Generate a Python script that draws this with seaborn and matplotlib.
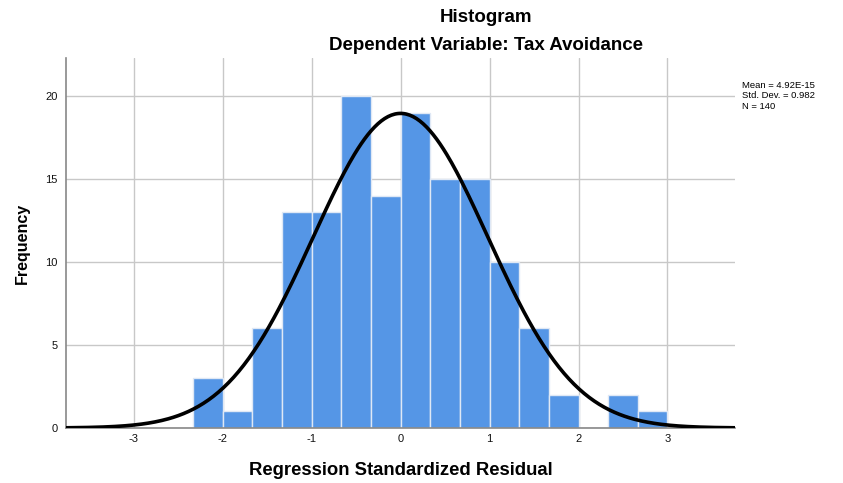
import numpy as np
import pandas as pd
import matplotlib
matplotlib.use("Agg")
import matplotlib.pyplot as plt
import seaborn as sns

# Data
bin_left = [-7/3, -2, -5/3, -4/3, -1, -2/3, -1/3, 0, 1/3, 2/3, 1, 4/3, 5/3, 2, 7/3, 8/3]
counts = [3, 1, 6, 13, 13, 20, 14, 19, 15, 15, 10, 6, 2, 0, 2, 1]
bin_width = 1/3
mean_val = 4.92e-15
sd_val = 0.982
n_val = 140
x_ticks = [-3, -2, -1, 0, 1, 2, 3]
y_ticks = [0, 5, 10, 15, 20]

sns.set_theme(style="white")
plt.rcParams['font.family'] = ['Liberation Sans', 'DejaVu Sans']
plt.rcParams['text.color'] = 'black'
plt.rcParams['axes.labelcolor'] = 'black'

fig = plt.figure(figsize=(8.43, 4.83), dpi=100)
ax = fig.add_axes([0.0783, 0.1139, 0.872 - 0.0783, 0.88 - 0.1139])

edges = list(bin_left) + [bin_left[-1] + bin_width]
centers = [b + bin_width / 2 for b in bin_left]
df = pd.DataFrame({"x": centers, "w": counts})
sns.histplot(data=df, x="x", weights="w", bins=edges, ax=ax,
             color="#5596E6", alpha=1.0, edgecolor="#dfe8f5", linewidth=1.0, zorder=2)

xs = np.linspace(-3.76, 3.76, 400)
ys = n_val * bin_width / (sd_val * np.sqrt(2 * np.pi)) * np.exp(-0.5 * ((xs - mean_val) / sd_val) ** 2)
sns.lineplot(x=xs, y=ys, ax=ax, color="black", linewidth=2.6, zorder=3)

ax.set_xlim(-3.76, 3.76)
ax.set_ylim(0, 22.3)
ax.set_xticks(x_ticks)
ax.set_xticklabels([str(t) for t in x_ticks])
ax.set_yticks(y_ticks)
ax.set_yticklabels([str(t) for t in y_ticks])
ax.grid(True, color="#c8c8c8", linewidth=1.0, zorder=0)
ax.set_axisbelow(True)
ax.tick_params(axis="x", length=0, labelsize=8, colors="#111111", pad=4)
ax.tick_params(axis="y", length=0, labelsize=8, colors="#111111", pad=6)
for s in ["top", "right"]:
    ax.spines[s].set_visible(False)
for s in ["left", "bottom"]:
    ax.spines[s].set_color("#888888")
    ax.spines[s].set_linewidth(1.2)
ax.set_xlabel("Regression Standardized Residual", fontsize=13.3, fontweight="bold", labelpad=13)
ax.set_ylabel("Frequency", fontsize=11.5, fontweight="bold", labelpad=11)

fig.text(486 / 843, 1 - 17 / 483, "Histogram", ha="center", va="center",
         fontsize=13.5, fontweight="bold")
fig.text(486 / 843, 1 - 46 / 483, "Dependent Variable: Tax Avoidance", ha="center", va="center",
         fontsize=13.5, fontweight="bold")
fig.text(742 / 843, 1 - 96 / 483,
         f"Mean = 4.92E-15\nStd. Dev. = {sd_val}\nN = {n_val}",
         ha="left", va="center", fontsize=6.8, linespacing=1.2)

fig.savefig("out.png", dpi=100)
